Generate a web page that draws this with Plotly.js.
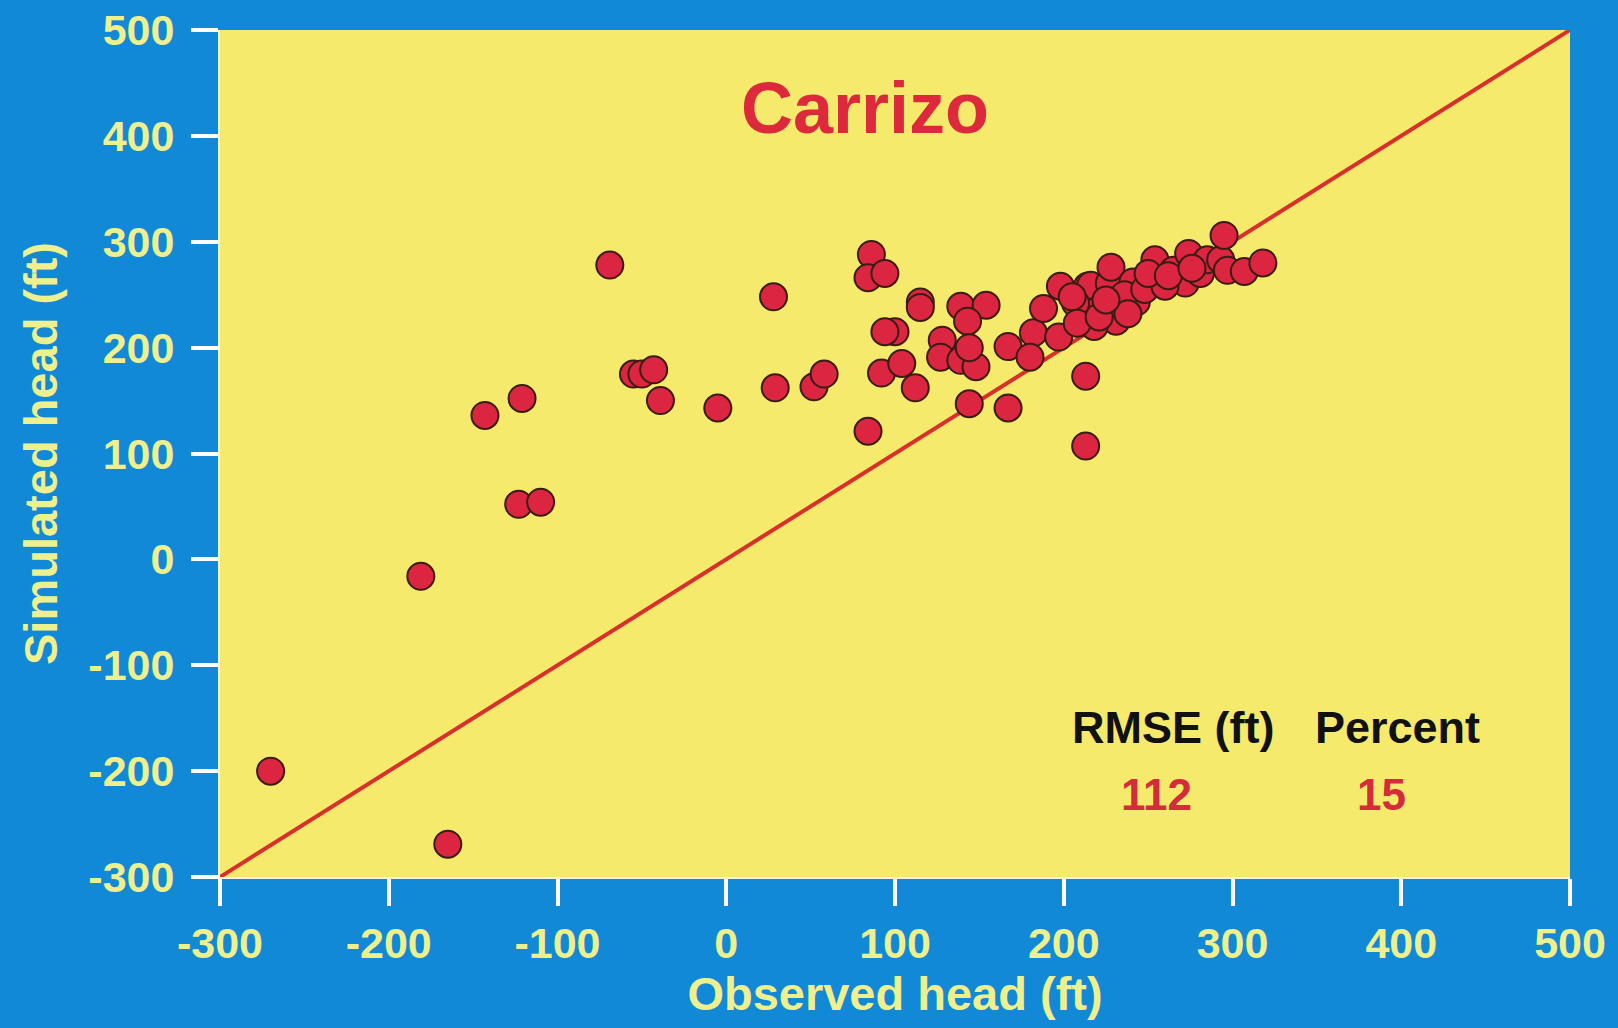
<!DOCTYPE html>
<html>
<head>
<meta charset="utf-8">
<script src="https://cdn.plot.ly/plotly-3.0.1.min.js"></script>
<style>html,body{margin:0;padding:0;background:#1289d6;}</style>
</head>
<body>
<div id="chart" style="width:1618px;height:1028px;"></div>
<script>
const observed = [-270,-165,-181,-143,-121,-123,-110,-69,-55,-50,-43,-39,-5,28,29,52,58,
  86,84,94,115,115,139,154,143,100,94,128,127,139,148,144,92,104,112,84,144,167,
  167,182,180,197,188,198,213,214,213,213,216,227,228,231,218,241,243,230,255,254,265,
  272,274,281,285,293,295,297,307,318,207,205,208,221,236,248,260,250,238,225,262,276];
const simulated = [-200,-269,-16,136,152,52,54,278,175,175,179,150,143,248,162,163,175,
  288,266,270,243,238,239,240,225,215,215,207,191,188,182,200,176,185,162,121,147,143,
  201,214,191,210,237,258,237,258,173,107,259,261,276,225,220,262,243,242,264,283,273,
  261,289,270,283,283,306,273,272,280,242,248,223,229,250,255,258,270,232,245,268,275];
const lineX = [-300, 500];
const lineY = [-300, 500];
const tickVals = [-300,-200,-100,0,100,200,300,400,500];
const tickText = ["-300","-200","-100","0","100","200","300","400","500"];
const labels = {title: "Carrizo", xTitle: "Observed head (ft)", yTitle: "Simulated head (ft)",
  statHeads: ["RMSE (ft)", "Percent"], statVals: ["112", "15"]};
const statX = [265, 398];

const tickColor = "#eef08e";
const font = "Liberation Sans, Arial, sans-serif";

const traces = [
  {x: lineX, y: lineY, mode: "lines", line: {color: "#d8302c", width: 4}, hoverinfo: "skip"},
  {x: observed, y: simulated, mode: "markers",
   marker: {size: 27, color: "#dc2541", line: {color: "#3a1c12", width: 2}}}
];

const annotations = [
  {x: 82, y: 426, xref: "x", yref: "y", text: "<b>" + labels.title + "</b>", showarrow: false,
   font: {family: font, size: 72, color: "#dc2a3c"}},
  ...labels.statHeads.map((t, i) => ({x: statX[i], y: -159, xref: "x", yref: "y", text: "<b>" + t + "</b>",
   showarrow: false, font: {family: font, size: 45, color: "#111111"}})),
  ...labels.statVals.map((t, i) => ({x: statX[i] - 10, y: -222, xref: "x", yref: "y", text: "<b>" + t + "</b>",
   showarrow: false, font: {family: font, size: 44, color: "#d42c3a"}}))
];

const axisCommon = {
  showgrid: false, zeroline: false, showline: true, linecolor: "#f2f4dc", linewidth: 2,
  ticks: "outside", ticklen: 27, tickwidth: 4, tickcolor: "#ffffff",
  tickfont: {family: font, size: 43, color: tickColor, weight: "bold"},
  tickmode: "array", tickvals: tickVals, ticktext: tickText
};

const layout = {
  width: 1618, height: 1028,
  paper_bgcolor: "#1289d6", plot_bgcolor: "#f6ea6c",
  margin: {l: 220, r: 48, t: 30, b: 151},
  showlegend: false,
  xaxis: Object.assign({}, axisCommon, {range: [-300, 500],
    title: {text: "<b>" + labels.xTitle + "</b>", font: {family: font, size: 47, color: tickColor}, standoff: 8}}),
  yaxis: Object.assign({}, axisCommon, {range: [-300, 500], ticklabelstandoff: 8,
    title: {text: "<b>" + labels.yTitle + "</b>", font: {family: font, size: 47, color: tickColor}, standoff: 16}}),
  annotations: annotations
};

Plotly.newPlot("chart", traces, layout, {displayModeBar: false, staticPlot: true});
</script>
</body>
</html>
